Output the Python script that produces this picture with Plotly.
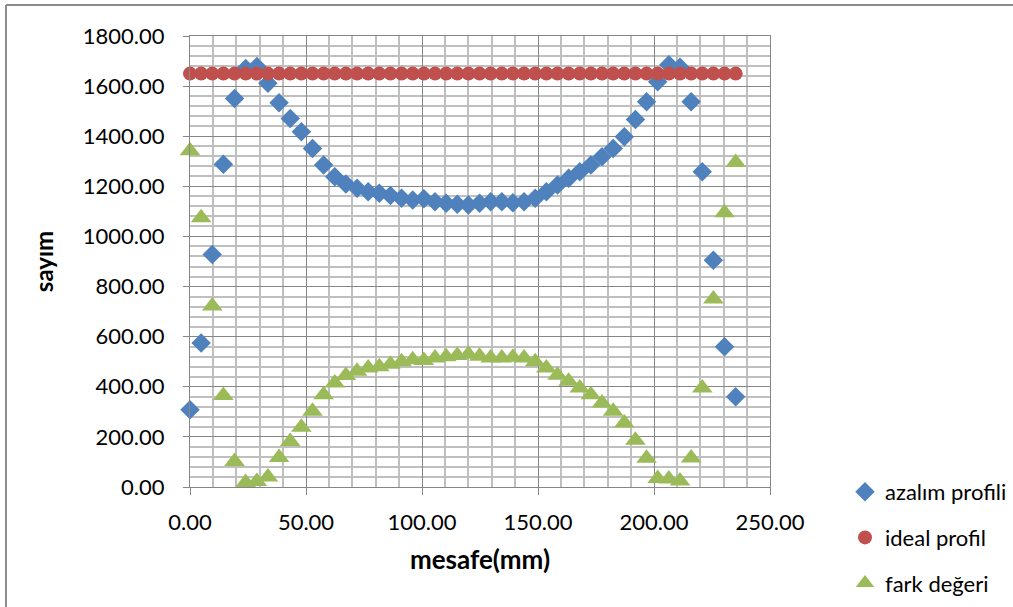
import plotly.graph_objects as go

x_mm = [0.0, 4.8, 9.6, 14.4, 19.2, 24.0, 28.8, 33.6, 38.4, 43.2,
        48.0, 52.8, 57.6, 62.4, 67.2, 72.0, 76.8, 81.6, 86.4, 91.2,
        96.0, 100.8, 105.6, 110.4, 115.2, 120.0, 124.8, 129.6, 134.4, 139.2,
        144.0, 148.8, 153.6, 158.4, 163.2, 168.0, 172.8, 177.6, 182.4, 187.2,
        192.0, 196.8, 201.6, 206.4, 211.2, 216.0, 220.8, 225.6, 230.4, 235.2]

azalim_profili = [308, 575, 928, 1288, 1551, 1670, 1678, 1611, 1534, 1471,
                  1418, 1351, 1285, 1238, 1209, 1192, 1178, 1172, 1163, 1152,
                  1145, 1150, 1138, 1132, 1128, 1125, 1132, 1138, 1138, 1134,
                  1138, 1152, 1178, 1205, 1232, 1258, 1285, 1318, 1351, 1398,
                  1467, 1538, 1617, 1685, 1675, 1538, 1258, 905, 560, 360]

ideal_profil = [1650] * 50

fark_degeri = [1342, 1075, 722, 365, 102, 18, 22, 40, 118, 182,
               238, 302, 368, 415, 445, 462, 475, 480, 490, 500,
               508, 505, 515, 520, 525, 530, 522, 515, 515, 518,
               515, 500, 475, 446, 422, 395, 368, 335, 302, 255,
               187, 115, 34, 32, 24, 116, 395, 750, 1095, 1295]

names = ["azalım profili", "ideal profil", "fark değeri"]
colors = ["#4F81BD", "#C0504D", "#9BBB59"]

FONT = "Lato, 'Open Sans', sans-serif"

fig = go.Figure()
fig.add_trace(go.Scatter(x=x_mm, y=azalim_profili, mode="markers", name=names[0],
                         marker=dict(symbol="diamond", size=15, color=colors[0]),
                         cliponaxis=False, legendgroup="a"))
fig.add_trace(go.Scatter(x=x_mm, y=ideal_profil, mode="markers", name=names[1],
                         marker=dict(symbol="circle", size=14, color=colors[1]),
                         cliponaxis=False, legendgroup="b"))
fig.add_trace(go.Scatter(x=x_mm, y=fark_degeri, mode="markers", name=names[2],
                         marker=dict(symbol="triangle-up", size=18, color=colors[2]),
                         cliponaxis=False, legendgroup="c"))

L, R, T, B = 190, 770, 36, 487
W, H = 1013, 607

def px_x(p):
    return (p - L) / (R - L)

def px_y(p):
    return (B - p) / (B - T)

border = "#8C8C8C"
fig.add_shape(type="line", xref="paper", yref="paper",
              x0=px_x(6), x1=px_x(6), y0=px_y(5), y1=px_y(620),
              line=dict(color=border, width=2))
fig.add_shape(type="line", xref="paper", yref="paper",
              x0=px_x(6), x1=px_x(1020), y0=px_y(5), y1=px_y(5),
              line=dict(color=border, width=2))

fig.update_layout(
    width=W, height=H,
    margin=dict(l=L, r=W - R, t=T, b=H - B, autoexpand=False),
    paper_bgcolor="white", plot_bgcolor="white",
    font=dict(family=FONT, size=22, color="#000000"),
    showlegend=True,
    legend=dict(x=px_x(845), y=px_y(471), xanchor="left", yanchor="top",
                font=dict(size=22), tracegroupgap=14, traceorder="grouped",
                itemwidth=30, bgcolor="rgba(0,0,0,0)"),
    xaxis=dict(range=[0, 250], dtick=50, tick0=0, tickformat=".2f",
               showgrid=True, gridcolor="#868686", gridwidth=1,
               minor=dict(dtick=10, showgrid=True, gridcolor="#BFBFBF", gridwidth=1.5),
               showline=True, linecolor="#868686", linewidth=1, mirror=True,
               ticks="outside", ticklen=7, tickcolor="#868686",
               ticklabelstandoff=9,
               zeroline=False, tickfont=dict(size=22),
               title=dict(text="<b>mesafe(mm)</b>", font=dict(size=26), standoff=16)),
    yaxis=dict(range=[0, 1800], dtick=200, tick0=0, tickformat=".2f",
               showgrid=True, gridcolor="#868686", gridwidth=1,
               minor=dict(dtick=40, showgrid=True, gridcolor="#BFBFBF", gridwidth=1.5),
               showline=True, linecolor="#868686", linewidth=1, mirror=True,
               ticks="outside", ticklen=6, tickcolor="#868686",
               ticklabelstandoff=14,
               zeroline=False, tickfont=dict(size=22),
               title=dict(text="<b>sayım</b>", font=dict(size=24), standoff=22)),
)

fig.write_html("out.html", config={"displayModeBar": False},
               post_script="document.body.style.margin='0px';")
